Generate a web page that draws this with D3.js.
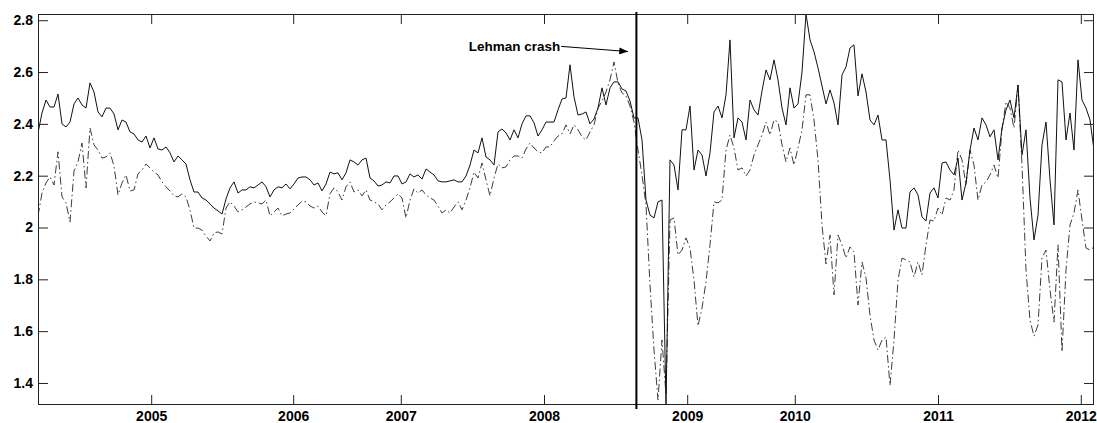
<!DOCTYPE html>
<html>
<head>
<meta charset="utf-8">
<script src="https://cdn.jsdelivr.net/npm/d3@7"></script>
<style>
body { margin: 0; background: #fff; overflow: hidden; }
svg { display: block; }
text { font-family: Arial, "Liberation Sans", sans-serif; font-weight: bold; }
</style>
</head>
<body>
<svg id="chart" width="1097" height="423"></svg>
<script>
// weekly observations, index 0 = first week of the sample
var solid = [
 2.365,2.442,2.492,2.465,2.465,2.515,2.400,2.388,2.407,2.477,2.500,2.473,2.461,2.558,2.523,
 2.446,2.427,2.461,2.461,2.438,2.377,2.415,2.407,2.369,2.361,2.338,2.330,2.353,2.307,2.346,
 2.303,2.299,2.311,2.288,2.253,2.276,2.261,2.245,2.184,2.137,2.137,2.114,2.106,2.091,2.075,
 2.064,2.052,2.110,2.153,2.176,2.133,2.145,2.145,2.157,2.153,2.164,2.176,2.157,2.118,2.145,
 2.157,2.153,2.168,2.149,2.168,2.191,2.195,2.195,2.184,2.164,2.172,2.141,2.168,2.214,2.207,
 2.211,2.184,2.211,2.261,2.253,2.241,2.261,2.268,2.191,2.180,2.160,2.164,2.176,2.172,2.199,
 2.199,2.168,2.176,2.207,2.195,2.203,2.187,2.226,2.214,2.203,2.180,2.176,2.176,2.180,2.184,
 2.176,2.176,2.199,2.241,2.299,2.288,2.346,2.272,2.261,2.241,2.369,2.380,2.365,2.338,2.377,
 2.346,2.400,2.431,2.431,2.404,2.353,2.377,2.407,2.407,2.407,2.454,2.496,2.500,2.628,2.504,
 2.434,2.438,2.446,2.400,2.419,2.461,2.539,2.473,2.539,2.562,2.562,2.535,2.527,2.488,2.423,
 2.423,2.338,2.106,2.048,2.037,2.099,2.106,1.315,2.261,2.241,2.145,2.377,2.377,2.469,2.222,
 2.299,2.280,2.199,2.288,2.446,2.469,2.423,2.512,2.724,2.346,2.423,2.407,2.338,2.492,2.454,
 2.434,2.527,2.608,2.570,2.647,2.570,2.461,2.396,2.539,2.461,2.477,2.600,2.824,2.724,2.678,
 2.616,2.546,2.477,2.531,2.481,2.396,2.589,2.620,2.693,2.705,2.508,2.593,2.523,2.415,2.396,
 2.434,2.338,2.338,2.184,1.990,2.068,1.998,1.998,2.137,2.153,2.126,2.041,2.025,2.133,2.153,
 2.114,2.249,2.253,2.222,2.203,2.268,2.106,2.172,2.299,2.384,2.338,2.423,2.396,2.350,2.377,
 2.261,2.384,2.454,2.492,2.423,2.550,2.280,2.377,2.114,1.952,2.048,2.319,2.407,2.184,2.010,
 2.570,2.562,2.338,2.442,2.299,2.647,2.492,2.461,2.415,2.299
];

var dashdot = [
 2.045,2.133,2.172,2.195,2.164,2.292,2.118,2.095,2.021,2.218,2.253,2.326,2.153,2.384,2.319,
 2.299,2.268,2.272,2.288,2.238,2.126,2.172,2.203,2.141,2.145,2.207,2.222,2.245,2.230,2.214,
 2.203,2.176,2.157,2.141,2.122,2.118,2.130,2.118,2.068,1.998,1.998,1.990,1.967,1.948,1.979,
 1.983,1.975,2.075,2.099,2.083,2.060,2.068,2.079,2.091,2.099,2.095,2.091,2.106,2.045,2.060,
 2.075,2.045,2.052,2.056,2.072,2.087,2.102,2.099,2.083,2.075,2.083,2.060,2.045,2.130,2.153,
 2.137,2.106,2.157,2.176,2.137,2.145,2.122,2.145,2.106,2.099,2.091,2.068,2.087,2.099,2.114,
 2.130,2.114,2.037,2.106,2.149,2.133,2.145,2.126,2.114,2.106,2.083,2.056,2.068,2.056,2.079,
 2.099,2.068,2.106,2.153,2.214,2.191,2.249,2.184,2.122,2.191,2.245,2.230,2.234,2.261,2.276,
 2.276,2.268,2.303,2.326,2.307,2.292,2.288,2.311,2.311,2.334,2.353,2.361,2.396,2.361,2.396,
 2.377,2.350,2.338,2.369,2.396,2.461,2.488,2.523,2.570,2.639,2.558,2.519,2.508,2.469,2.407,
 2.299,2.203,2.087,1.778,1.527,1.334,1.566,1.354,2.029,2.037,1.894,1.913,1.960,1.921,1.797,
 1.620,1.689,1.790,1.933,2.099,2.095,2.106,2.299,2.357,2.307,2.222,2.230,2.199,2.222,2.280,
 2.319,2.357,2.407,2.357,2.415,2.407,2.319,2.253,2.307,2.241,2.307,2.377,2.512,2.512,2.415,
 2.261,2.010,1.859,1.971,1.740,1.971,1.933,1.882,1.925,1.906,1.701,1.867,1.805,1.662,1.566,
 1.527,1.566,1.577,1.390,1.566,1.797,1.882,1.875,1.867,1.809,1.867,1.817,1.933,2.029,2.025,
 2.075,2.048,2.114,2.106,2.145,2.299,2.261,2.164,2.299,2.241,2.106,2.164,2.176,2.203,2.241,
 2.191,2.377,2.485,2.461,2.384,2.550,2.241,1.836,1.643,1.581,1.624,1.882,1.913,1.759,1.635,
 1.933,1.520,1.836,2.010,2.056,2.145,2.029,1.921,1.913,1.925
];

var yearLabels = [2005, 2006, 2007, 2008, 2009, 2010, 2011, 2012];
var yearTickIdx = [28.3, 63.8, 90.7, 126.5, 162.3, 189.2, 225, 260.7];
var yTicks = [1.4, 1.6, 1.8, 2, 2.2, 2.4, 2.6, 2.8];

var lehmanIdx = 149.6,
    lehmanText = "Lehman crash",
    arrowFrom = [130.8, 2.699],
    arrowTo = [147.5, 2.679];

var mLeft = 38, mRight = 1094, mTop = 14, mBottom = 405;

var svg = d3.select("#chart");

var x = d3.scaleLinear()
    .domain([0, solid.length - 1])
    .range([mLeft, mRight]);

var y = d3.scaleLinear()
    .domain(d3.extent(solid.concat(dashdot)))
    .range([mBottom, mTop]);

var defs = svg.append("defs");

defs.append("clipPath").attr("id", "plot")
  .append("rect")
    .attr("x", mLeft).attr("y", mTop)
    .attr("width", mRight - mLeft).attr("height", mBottom - mTop);

defs.append("marker")
    .attr("id", "head")
    .attr("viewBox", "0 0 10 8")
    .attr("refX", 10).attr("refY", 4)
    .attr("markerWidth", 10).attr("markerHeight", 7)
    .attr("markerUnits", "userSpaceOnUse")
    .attr("orient", "auto")
  .append("path")
    .attr("d", "M0,0L10,4L0,8Z")
    .attr("fill", "#000");

var line = d3.line()
    .x(function(d, i) { return x(i); })
    .y(function(d) { return y(d); });

var g = svg.append("g").attr("clip-path", "url(#plot)");

g.append("path")
    .datum(dashdot)
    .attr("d", line)
    .attr("fill", "none")
    .attr("stroke", "#3c3c3c")
    .attr("stroke-width", 1)
    .attr("stroke-dasharray", "8,3,1.5,3");

g.append("path")
    .datum(solid)
    .attr("d", line)
    .attr("fill", "none")
    .attr("stroke", "#111")
    .attr("stroke-width", 1);

// axes, ticks pointing inward on all four sides
var yearFmt = function(d, i) { return yearLabels[i]; };
var numFmt = function(d) { return String(+d.toFixed(1)); };

svg.append("g")
    .attr("transform", "translate(0," + mBottom + ")")
    .call(d3.axisBottom(x).tickValues(yearTickIdx).tickFormat(yearFmt)
        .tickSizeInner(-10).tickSizeOuter(0).tickPadding(6));

svg.append("g")
    .attr("transform", "translate(0," + mTop + ")")
    .call(d3.axisTop(x).tickValues(yearTickIdx).tickFormat("")
        .tickSizeInner(-10).tickSizeOuter(0));

svg.append("g")
    .attr("transform", "translate(" + mLeft + ",0)")
    .call(d3.axisLeft(y).tickValues(yTicks).tickFormat(numFmt)
        .tickSizeInner(-10).tickSizeOuter(0).tickPadding(5));

svg.append("g")
    .attr("transform", "translate(" + mRight + ",0)")
    .call(d3.axisRight(y).tickValues(yTicks).tickFormat("")
        .tickSizeInner(-10).tickSizeOuter(0));

svg.selectAll(".tick text")
    .attr("fill", "#000")
    .style("font-size", "14px");
svg.selectAll(".tick line").attr("stroke", "#222");
svg.selectAll(".domain").remove();

svg.append("rect")
    .attr("x", mLeft + 0.5).attr("y", mTop + 0.5)
    .attr("width", mRight - mLeft - 1).attr("height", mBottom - mTop - 1)
    .attr("fill", "none")
    .attr("stroke", "#222");

// Lehman marker
svg.append("line")
    .attr("x1", x(lehmanIdx)).attr("x2", x(lehmanIdx))
    .attr("y1", y(1.30)).attr("y2", y(2.832))
    .attr("stroke", "#000")
    .attr("stroke-width", 2);

svg.append("line")
    .attr("x1", x(arrowFrom[0])).attr("y1", y(arrowFrom[1]))
    .attr("x2", x(arrowTo[0])).attr("y2", y(arrowTo[1]))
    .attr("stroke", "#000")
    .attr("stroke-width", 1)
    .attr("marker-end", "url(#head)");

svg.append("text")
    .attr("x", x(arrowFrom[0]) - 1)
    .attr("y", y(arrowFrom[1]) + 4.5)
    .attr("text-anchor", "end")
    .style("font-size", "13.5px")
    .text(lehmanText);
</script>
</body>
</html>
